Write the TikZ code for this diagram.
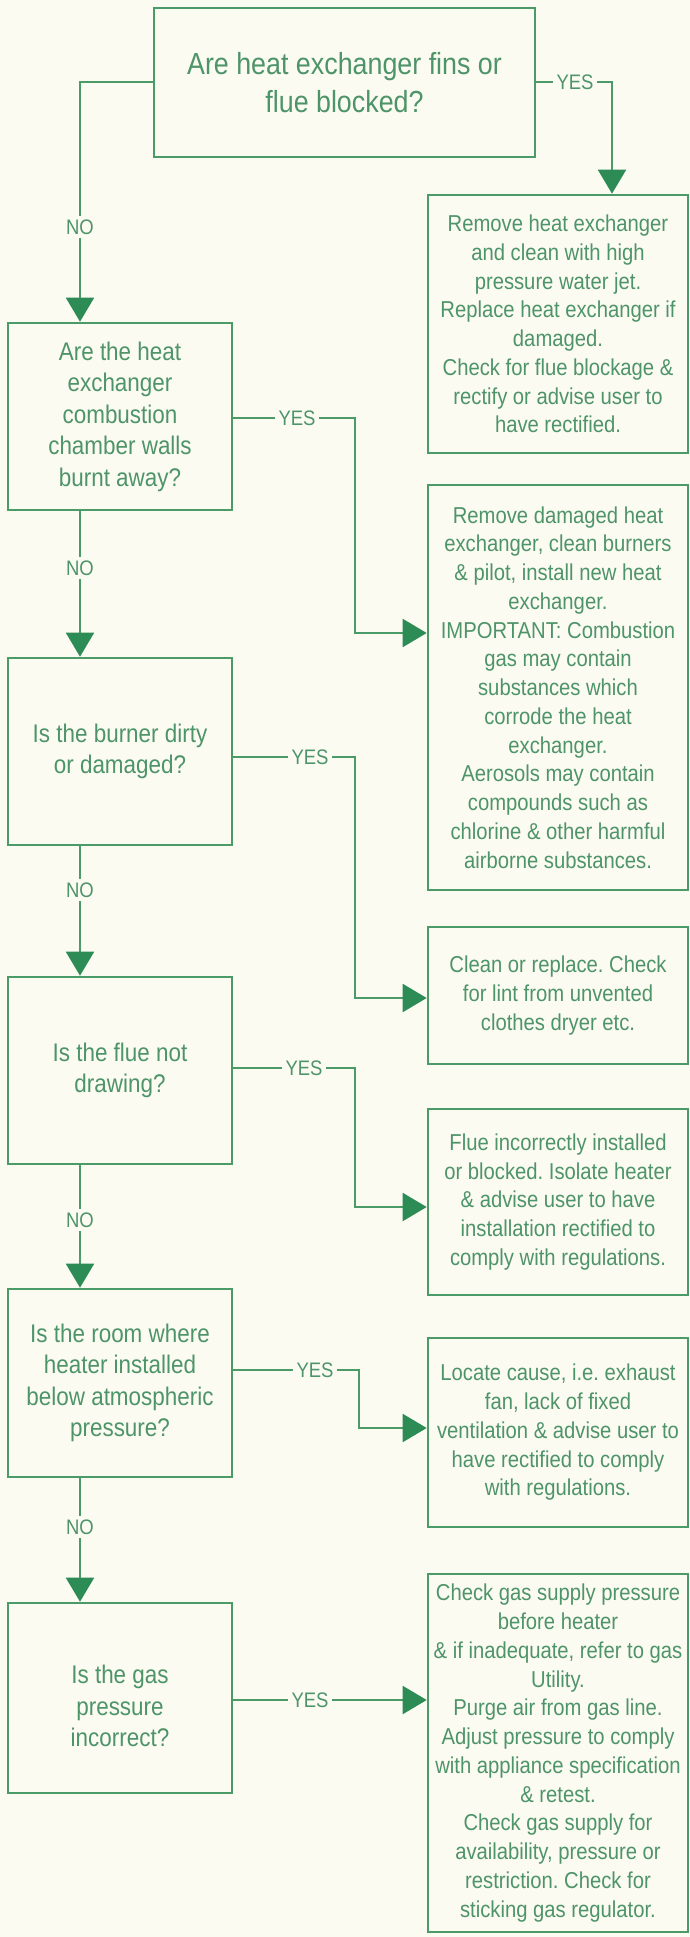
\documentclass[tikz,border=0pt]{standalone}
\usepackage{fontspec}
\setmainfont{Liberation Sans}[FakeStretch=0.88]
\usetikzlibrary{arrows.meta,calc}
\definecolor{bgc}{RGB}{252,251,242}
\definecolor{boxc}{RGB}{75,155,105}
\definecolor{arrc}{RGB}{45,140,85}
\definecolor{txtc}{RGB}{78,148,105}
\frenchspacing
\begin{document}
\begin{tikzpicture}[x=1pt,y=-1pt,
  every node/.style={text=txtc},
  topbox/.style={draw=boxc, line width=2.6pt, align=center, inner sep=0pt, font=\fontsize{30.5}{38}\selectfont},
  qbox/.style={draw=boxc, line width=2.6pt, align=center, inner sep=0pt, minimum width=224pt, font=\fontsize{25.5}{31.5}\selectfont},
  abox/.style={draw=boxc, line width=2.6pt, align=center, inner sep=0pt, minimum width=260pt, font=\fontsize{23}{28.75}\selectfont},
  conn/.style={draw=boxc, line width=2pt, -{Triangle[length=24pt,width=28pt,color=arrc]}},
  lbl/.style={fill=bgc, inner sep=4pt, font=\fontsize{21}{24}\selectfont},
]
\fill[bgc] (0,0) rectangle (690,1937);
\useasboundingbox (0,0) rectangle (690,1937);

% question boxes
\node[topbox, minimum width=381pt, minimum height=149pt] (b1) at (344.5,82.5) {Are heat exchanger fins or\\flue blocked?};
\node[qbox, minimum height=187pt] (b2) at (120,416.5) {Are the heat\\exchanger\\combustion\\chamber walls\\burnt away?};
\node[qbox, minimum height=187pt] (b3) at (120,751.5) {Is the burner dirty\\or damaged?};
\node[qbox, minimum height=187pt] (b4) at (120,1070.5) {Is the flue not\\drawing?};
\node[qbox, minimum height=188pt] (b5) at (120,1383) {Is the room where\\heater installed\\below atmospheric\\pressure?};
\node[qbox, minimum height=190pt] (b6) at (120,1698) {};
\node[font=\fontsize{25.5}{31.5}\selectfont, align=center, inner sep=0pt] (b6t) at (120,1706) {Is the gas\\pressure\\incorrect?};

% action boxes
\node[abox, minimum height=258pt] (r1) at (558,324) {Remove heat exchanger\\and clean with high\\pressure water jet.\\Replace heat exchanger if\\damaged.\\Check for flue blockage \&\\rectify or advise user to\\have rectified.};
\node[abox, minimum height=405pt] (r2) at (558,687.5) {Remove damaged heat\\exchanger, clean burners\\\& pilot, install new heat\\exchanger.\\IMPORTANT: Combustion\\gas may contain\\substances which\\corrode the heat\\exchanger.\\Aerosols may contain\\compounds such as\\chlorine \& other harmful\\airborne substances.};
\node[abox, minimum height=137pt] (r3) at (558,995.5) {Clean or replace. Check\\for lint from unvented\\clothes dryer etc.};
\node[abox, minimum height=186pt] (r4) at (558,1202) {Flue incorrectly installed\\or blocked. Isolate heater\\\& advise user to have\\installation rectified to\\comply with regulations.};
\node[abox, minimum height=189pt] (r5) at (558,1432.5) {Locate cause, i.e. exhaust\\fan, lack of fixed\\ventilation \& advise user to\\have rectified to comply\\with regulations.};
\node[abox, minimum height=358pt] (r6) at (558,1753) {Check gas supply pressure\\before heater\\\& if inadequate, refer to gas\\Utility.\\Purge air from gas line.\\Adjust pressure to comply\\with appliance specification\\\& retest.\\Check gas supply for\\availability, pressure or\\restriction. Check for\\sticking gas regulator.};

% NO connectors
\coordinate (nx) at (80,0);
\draw[conn] (b1.west) -| (nx |- b2.north);
\draw[conn] (nx |- b2.south) -- (nx |- b3.north);
\draw[conn] (nx |- b3.south) -- (nx |- b4.north);
\draw[conn] (nx |- b4.south) -- (nx |- b5.north);
\draw[conn] (nx |- b5.south) -- (nx |- b6.north);

% YES connectors
\coordinate (yx1) at (612,0);
\draw[conn] (b1.east) -| (yx1 |- r1.north);
\draw[conn] ($(b2.east)+(0,1.5)$) -| ($(r2.west)+(-72,-54.5)$) -- ($(r2.west)+(0,-54.5)$);
\draw[conn] ($(b3.east)+(0,5.5)$) -| ($(r3.west)+(-72,2.5)$) -- ($(r3.west)+(0,2.5)$);
\draw[conn] ($(b4.east)+(0,-2.5)$) -| ($(r4.west)+(-72,5)$) -- ($(r4.west)+(0,5)$);
\draw[conn] ($(b5.east)+(0,-13)$) -| ($(r5.west)+(-68,-4.5)$) -- ($(r5.west)+(0,-4.5)$);
\draw[conn] ($(b6.east)+(0,2)$) -- ($(r6.west)+(0,-53)$);

% labels
\node[lbl] (n1) at (80,227) {NO};
\node[lbl] (n2) at (80,568) {NO};
\node[lbl] (n3) at (80,890) {NO};
\node[lbl] (n4) at (80,1220) {NO};
\node[lbl] (n5) at (80,1527) {NO};
\node[lbl] (y1) at (575,82.5) {YES};
\node[lbl] (y2) at (297,418) {YES};
\node[lbl] (y3) at (310,757) {YES};
\node[lbl] (y4) at (304,1068) {YES};
\node[lbl] (y5) at (315,1370) {YES};
\node[lbl] (y6) at (310,1700) {YES};
\end{tikzpicture}
\end{document}
